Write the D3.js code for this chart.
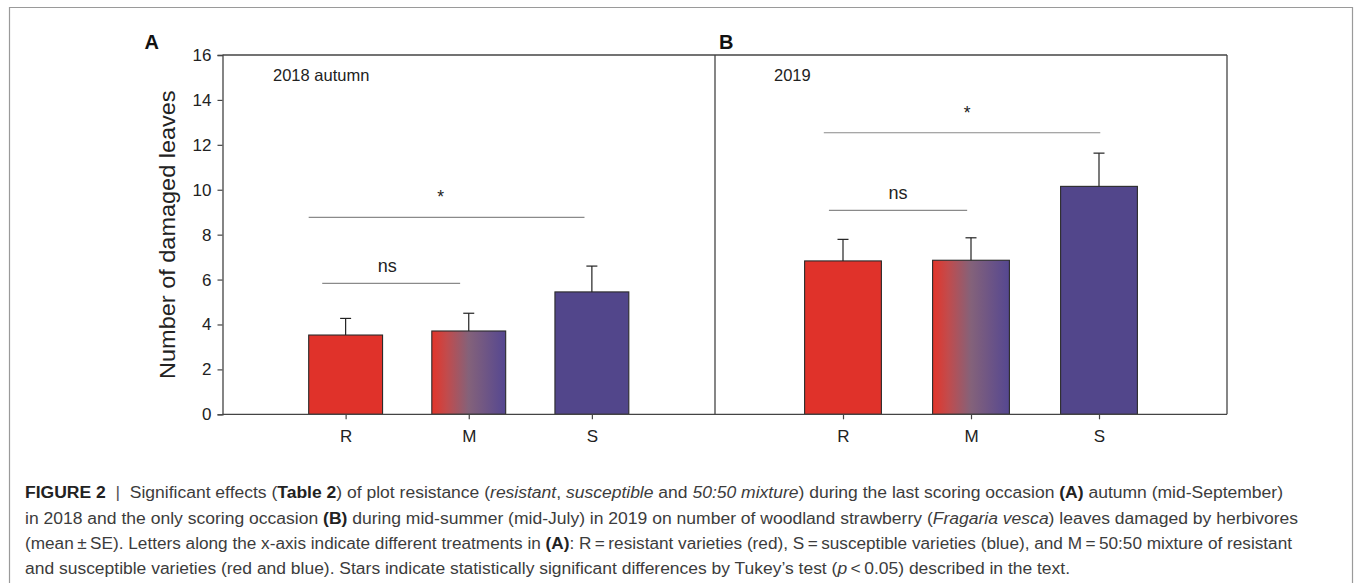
<!DOCTYPE html>
<html>
<head>
<meta charset="utf-8">
<script src="https://cdn.jsdelivr.net/npm/d3@7"></script>
<style>
  html, body { margin: 0; padding: 0; background: #fff; }
  svg { display: block; font-family: "Liberation Sans", Arial, Helvetica, sans-serif; }
</style>
</head>
<body>
<svg id="chart" width="1355" height="583"></svg>
<script>
// ---------------- data ----------------
const categories = ["R", "M", "S"];
const panelLetters = ["A", "B"];
const panelTitles = ["2018 autumn", "2019"];
const means2018 = [3.53, 3.71, 5.45];
const se2018 = [0.74, 0.79, 1.15];
const means2019 = [6.83, 6.86, 10.15];
const se2019 = [0.96, 1.00, 1.48];
const yTicks = [0, 2, 4, 6, 8, 10, 12, 14, 16];
const sigLabels = ["ns", "*"];
const sigLevels2018 = [5.83, 8.77];
const sigLevels2019 = [9.08, 12.54];
const yTitle = "Number of damaged leaves";

(function () {
// ---------------- layout ----------------
const svg = d3.select("#chart");
const yTop = 55, yBottom = 414.3;
const y = d3.scaleLinear().domain([0, 16]).range([yBottom, yTop]);

const panels = [
  { x0: 222.5, x1: 715, means: means2018, se: se2018, sig: sigLevels2018,
    spans: [[-0.19, -0.07, 0, 1], [-0.30, -0.06, 0, 2]], textShift: [-4, -6] },
  { x0: 715, x1: 1227, means: means2019, se: se2019, sig: sigLevels2019,
    spans: [[-0.11, -0.03, 0, 1], [-0.15, 0.01, 0, 2]], textShift: [0, 5] }
];

const colRed = "#e0322a", colBlue = "#52468b";

// gradient for mixture
const defs = svg.append("defs");
const grad = defs.append("linearGradient").attr("id", "mix").attr("x1", "0%").attr("x2", "100%").attr("y1", "0%").attr("y2", "0%");
grad.append("stop").attr("offset", "0%").attr("stop-color", "#e3352a");
grad.append("stop").attr("offset", "20%").attr("stop-color", "#c24b4c");
grad.append("stop").attr("offset", "50%").attr("stop-color", "#84627a");
grad.append("stop").attr("offset", "100%").attr("stop-color", "#554791");
const fills = [colRed, "url(#mix)", colBlue];

// outer figure frame (left, top, right)
svg.append("path")
  .attr("d", "M9.5,583 L9.5,7.5 L1352.5,7.5 L1352.5,583")
  .attr("fill", "none").attr("stroke", "#9a9a9a").attr("stroke-width", 1.2);

const frameCol = "#444";

panels.forEach((p, pi) => {
  const x = d3.scaleLinear().domain([0, 4]).range([p.x0, p.x1]);
  const unit = x(1) - x(0);
  const bw = unit * 0.6;
  const g = svg.append("g");

  // bars
  g.selectAll("rect.bar").data(p.means).join("rect")
    .attr("class", "bar")
    .attr("x", (d, i) => x(i + 1) - bw / 2)
    .attr("y", d => y(d))
    .attr("width", bw)
    .attr("height", d => y(0) - y(d))
    .attr("fill", (d, i) => fills[i])
    .attr("stroke", "#2a2a2a").attr("stroke-width", 1.1);

  // error bars (upper only)
  p.means.forEach((m, i) => {
    const cx = x(i + 1);
    g.append("line").attr("x1", cx).attr("x2", cx)
      .attr("y1", y(m)).attr("y2", y(m + p.se[i]))
      .attr("stroke", "#222").attr("stroke-width", 1.2);
    g.append("line").attr("x1", cx - 5.5).attr("x2", cx + 5.5)
      .attr("y1", y(m + p.se[i])).attr("y2", y(m + p.se[i]))
      .attr("stroke", "#222").attr("stroke-width", 1.2);
  });

  // significance lines
  p.sig.forEach((lvl, k) => {
    const s = p.spans[k];
    const xa = x(s[2] + 1 + s[0]);
    const xb = x(s[3] + 1 + s[1]);
    g.append("line").attr("x1", xa).attr("x2", xb)
      .attr("y1", y(lvl)).attr("y2", y(lvl))
      .attr("stroke", "#8a8a8a").attr("stroke-width", 1.1);
    g.append("text")
      .attr("x", (xa + xb) / 2 + p.textShift[k])
      .attr("y", k === 0 ? y(lvl) - 11 : y(lvl) - 14)
      .attr("text-anchor", "middle")
      .attr("font-size", k === 0 ? 18 : 17.5)
      .attr("fill", "#222")
      .text(sigLabels[k]);
  });

  // x axis
  const xAxis = d3.axisBottom(x).tickValues([1, 2, 3])
    .tickFormat((d) => categories[d - 1]).tickSize(5).tickPadding(11);
  const ax = g.append("g").attr("transform", `translate(0,${yBottom})`).call(xAxis);
  ax.select(".domain").remove();
  ax.selectAll("line").attr("stroke", frameCol).attr("stroke-width", 1.2);
  ax.selectAll("text").attr("font-size", 17).attr("fill", "#222")
    .attr("font-family", "'Liberation Sans', Arial, sans-serif");

  // panel title
  g.append("text")
    .attr("x", pi === 0 ? 273 : 774)
    .attr("y", 81)
    .attr("font-size", 16.5).attr("fill", "#222")
    .text(panelTitles[pi]);

  // panel letter
  g.append("text")
    .attr("x", pi === 0 ? 144.5 : 719)
    .attr("y", 48.5)
    .attr("font-size", 20).attr("font-weight", "bold").attr("fill", "#111")
    .text(panelLetters[pi]);
});

// frame lines
svg.append("line").attr("x1", 222.5).attr("x2", 1227).attr("y1", yTop).attr("y2", yTop)
  .attr("stroke", frameCol).attr("stroke-width", 1.3);
svg.append("line").attr("x1", 1227).attr("x2", 1227).attr("y1", yTop).attr("y2", yBottom)
  .attr("stroke", frameCol).attr("stroke-width", 1.3);
svg.append("line").attr("x1", 715).attr("x2", 715).attr("y1", yTop).attr("y2", yBottom)
  .attr("stroke", frameCol).attr("stroke-width", 1.3);
svg.append("line").attr("x1", 222.5).attr("x2", 1227).attr("y1", yBottom).attr("y2", yBottom)
  .attr("stroke", frameCol).attr("stroke-width", 1.3);

// y axis
const yAxis = d3.axisLeft(y).tickValues(yTicks).tickSize(5).tickPadding(6);
const ay = svg.append("g").attr("transform", "translate(222.5,0)").call(yAxis);
ay.select(".domain").attr("stroke", frameCol).attr("stroke-width", 1.3);
ay.selectAll("line").attr("stroke", frameCol).attr("stroke-width", 1.2);
ay.selectAll("text").attr("font-size", 17).attr("fill", "#222")
  .attr("font-family", "'Liberation Sans', Arial, sans-serif");

// y title
svg.append("text")
  .attr("transform", `translate(175,${(yTop + yBottom) / 2}) rotate(-90) scale(1,0.9)`)
  .attr("text-anchor", "middle")
  .attr("font-size", 23.5).attr("fill", "#222")
  .text(yTitle);

// ---------------- caption ----------------
const captionLines = [
  [["b", "FIGURE 2"], ["sep", "  |  "], ["n", "Significant effects ("], ["b", "Table 2"], ["n", ") of plot resistance ("], ["i", "resistant"], ["n", ", "], ["i", "susceptible"], ["n", " and "], ["i", "50:50 mixture"], ["n", ") during the last scoring occasion "], ["b", "(A)"], ["n", " autumn (mid-September)"]],
  [["n", "in 2018 and the only scoring occasion "], ["b", "(B)"], ["n", " during mid-summer (mid-July) in 2019 on number of woodland strawberry ("], ["i", "Fragaria vesca"], ["n", ") leaves damaged by herbivores"]],
  [["n", "(mean\u2009\u00b1\u2009SE). Letters along the x-axis indicate different treatments in "], ["b", "(A)"], ["n", ": R\u2009=\u2009resistant varieties (red), S\u2009=\u2009susceptible varieties (blue), and M\u2009=\u200950:50 mixture of resistant"]],
  [["n", "and susceptible varieties (red and blue). Stars indicate statistically significant differences by Tukey\u2019s test ("], ["i", "p"], ["n", "\u2009<\u20090.05) described in the text."]]
];
const captionBaselines = [498.3, 523.6, 549, 574.3];
const captionEnds = [1283, 1298, 1292, 1070];

captionLines.forEach((line, li) => {
  const t = svg.append("text")
    .attr("x", 25).attr("y", captionBaselines[li])
    .attr("font-size", 16).attr("fill", "#3c3c3c")
    .attr("textLength", captionEnds[li] - 25)
    .attr("lengthAdjust", "spacingAndGlyphs")
    .style("white-space", "pre");
  line.forEach(([kind, s]) => {
    const ts = t.append("tspan").text(s);
    if (kind === "b") ts.attr("font-weight", "bold").attr("fill", "#222");
    if (kind === "i") ts.attr("font-style", "italic");
    if (kind === "sep") ts.attr("fill", "#555");
  });
});
})();
</script>
</body>
</html>
